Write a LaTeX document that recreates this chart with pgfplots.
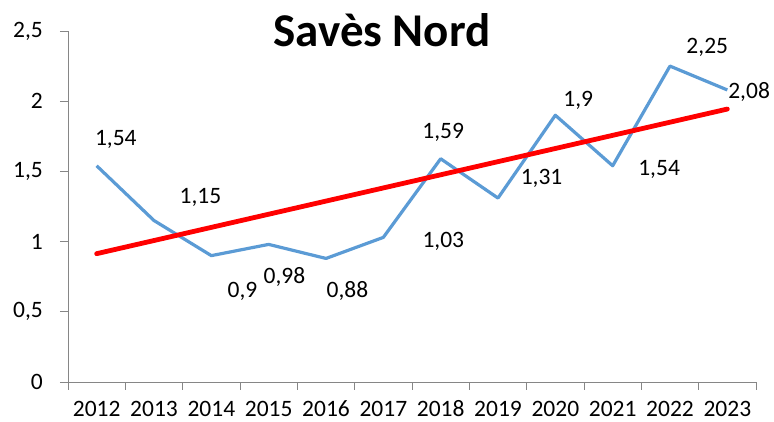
\documentclass[border=0pt]{standalone}
\usepackage{pgfplots}
\pgfplotsset{compat=1.18}
\usepackage{fontspec}
\setmainfont{Carlito}
\definecolor{xlblue}{HTML}{5B9BD5}
\definecolor{axgray}{HTML}{868686}
\begin{document}
\begin{tikzpicture}[x=1pt,y=1pt]
\path[use as bounding box] (0,0) rectangle (774,422);
\begin{axis}[
  at={(68pt,40pt)}, anchor=south west,
  scale only axis, width=688pt, height=351pt,
  xmin=-0.5, xmax=11.5, ymin=0, ymax=2.5,
  axis x line=bottom, axis y line=left,
  axis line style={-, axgray, line width=0.8pt},
  tick style={axgray, line width=0.8pt},
  tick align=outside, major tick length=8pt,
  xtick={-0.5,0.5,...,11.5}, xticklabels={},
  extra x ticks={0,1,2,3,4,5,6,7,8,9,10,11},
  extra x tick labels={2012,2013,2014,2015,2016,2017,2018,2019,2020,2021,2022,2023},
  extra x tick style={major tick length=0pt},
  ytick={0,0.5,1,1.5,2,2.5},
  yticklabels={0,{0,5},1,{1,5},2,{2,5}},
  ticklabel style={font=\fontsize{23.5}{28}\selectfont, text=black},
  yticklabel style={inner sep=0pt, xshift=-17pt},
  xticklabel style={inner sep=0pt, anchor=base, yshift=-34.5pt},
  clip=false,
]
\addplot[xlblue, line width=3.2pt, line join=round] coordinates {
(0,1.54) (1,1.15) (2,0.9) (3,0.98) (4,0.88) (5,1.03) (6,1.59) (7,1.31) (8,1.9) (9,1.54) (10,2.25) (11,2.08)};
\addplot[red, line width=4.8pt, line cap=round] coordinates {(0,0.914) (11,1.944)};
\begin{scope}[every node/.style={font=\fontsize{23.5}{28}\selectfont, anchor=base, inner sep=0pt}]
\node at (axis cs:0.334,1.688) {1,54};
\node at (axis cs:1.811,1.268) {1,15};
\node at (axis cs:2.544,0.605) {0,9};
\node at (axis cs:3.276,0.705) {0,98};
\node at (axis cs:4.375,0.605) {0,88};
\node at (axis cs:6.046,0.959) {1,03};
\node at (axis cs:6.044,1.736) {1,59};
\node at (axis cs:7.76,1.408) {1,31};
\node at (axis cs:8.40,1.961) {1,9};
\node at (axis cs:9.81,1.469) {1,54};
\node at (axis cs:10.65,2.341) {2,25};
\node at (axis cs:11.38,2.021) {2,08};
\end{scope}
\end{axis}
\node[anchor=base, font=\fontsize{47}{56}\selectfont\bfseries, inner sep=0pt] at (382,375.3) {Savès Nord};
\end{tikzpicture}
\end{document}
